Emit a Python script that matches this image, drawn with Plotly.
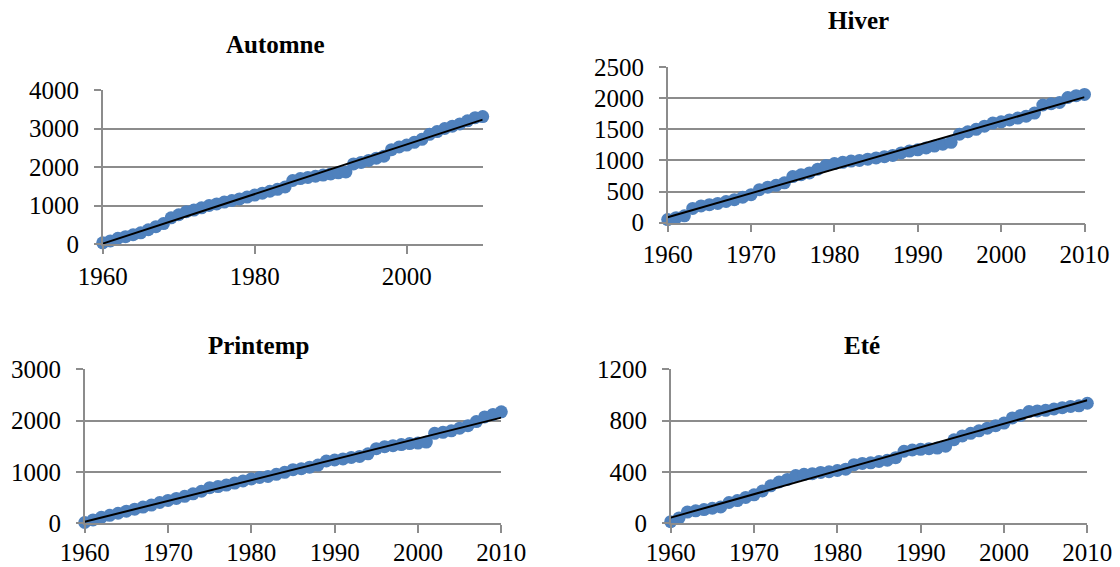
import numpy as np
import plotly.graph_objects as go

years = list(range(1960, 2011))

automne = [30, 80, 150, 190, 240, 290, 370, 450, 530, 680,
           760, 840, 880, 940, 1000, 1040, 1090, 1130, 1170, 1220,
           1270, 1320, 1370, 1420, 1480, 1650, 1700, 1730, 1760, 1790,
           1820, 1850, 1870, 2080, 2120, 2170, 2230, 2280, 2450, 2520,
           2570, 2640, 2720, 2850, 2920, 3000, 3060, 3120, 3200, 3280,
           3310]

hiver = [50, 80, 110, 230, 270, 290, 310, 340, 370, 410,
         450, 530, 570, 600, 640, 740, 770, 800, 860, 920,
         950, 970, 990, 1000, 1020, 1040, 1060, 1080, 1120, 1150,
         1170, 1200, 1230, 1260, 1290, 1420, 1460, 1500, 1550, 1600,
         1620, 1650, 1680, 1710, 1760, 1890, 1910, 1930, 2010, 2040,
         2060]

printemp = [10, 60, 110, 150, 190, 230, 270, 310, 350, 400,
            440, 480, 520, 570, 620, 690, 710, 740, 780, 820,
            860, 890, 910, 950, 990, 1040, 1060, 1090, 1130, 1210,
            1230, 1250, 1280, 1300, 1350, 1450, 1490, 1510, 1530, 1550,
            1560, 1580, 1750, 1770, 1800, 1850, 1900, 1980, 2070, 2120,
            2170]

ete = [10, 40, 85, 95, 105, 115, 125, 160, 175, 200,
       220, 250, 290, 320, 340, 370, 380, 385, 395, 400,
       410, 420, 455, 465, 470, 480, 490, 510, 560, 570,
       575, 580, 585, 600, 650, 680, 700, 720, 740, 760,
       780, 820, 840, 870, 875, 880, 890, 900, 910, 915,
       935]

titles = ["Automne", "Hiver", "Printemp", "Eté"]
series = [automne, hiver, printemp, ete]
y_max = [4000, 2500, 3000, 1200]
y_dtick = [1000, 500, 1000, 400]
x_dtick = [20, 10, 10, 10]

W, H = 1120, 567
# plot areas in pixels (left, right, top, bottom)
boxes = [(102.7, 482.7, 90.0, 244.0),
         (667.7, 1084.5, 67.0, 222.7),
         (84.7, 501.3, 369.3, 523.0),
         (670.7, 1087.3, 369.3, 523.0)]
title_pos = [(275, 45), (858, 21), (258, 345), (862, 345)]
x_standoff = [1, 1, -2, -2]

FONT = "Liberation Serif, Times New Roman, serif"
GRID = "#8c8c8c"
BLUE = "#4f81bd"

fig = go.Figure()
layout = dict(
    template="none",
    width=W, height=H, autosize=False,
    margin=dict(l=0, r=0, t=0, b=0, pad=0, autoexpand=False),
    paper_bgcolor="white", plot_bgcolor="white",
    showlegend=False,
    font=dict(family=FONT, size=25, color="black"),
    annotations=[],
)

for i, (name, vals) in enumerate(zip(titles, series)):
    xa = "x" if i == 0 else f"x{i+1}"
    ya = "y" if i == 0 else f"y{i+1}"
    l, r, t, b = boxes[i]
    fig.add_trace(go.Scatter(
        x=years, y=vals, mode="markers", xaxis=xa, yaxis=ya,
        marker=dict(size=13, color=BLUE, line=dict(width=0)),
        cliponaxis=False,
    ))
    coef = np.polyfit(years, vals, 1)
    tx = [years[0], years[-1]]
    ty = list(np.polyval(coef, tx))
    fig.add_trace(go.Scatter(
        x=tx, y=ty, mode="lines", xaxis=xa, yaxis=ya,
        line=dict(color="black", width=2), cliponaxis=False,
    ))
    xkey = "xaxis" if i == 0 else f"xaxis{i+1}"
    ykey = "yaxis" if i == 0 else f"yaxis{i+1}"
    layout[xkey] = dict(
        domain=[l / W, r / W], anchor=ya, automargin=False,
        range=[1960, 2010], tick0=1960, dtick=x_dtick[i],
        showgrid=False, zeroline=False,
        showline=True, linecolor=GRID, linewidth=1.5,
        ticks="outside", ticklen=8, tickcolor=GRID, tickwidth=1.5,
        ticklabelstandoff=x_standoff[i],
        tickfont=dict(family=FONT, size=25, color="black"),
    )
    layout[ykey] = dict(
        domain=[1 - b / H, 1 - t / H], anchor=xa, automargin=False,
        range=[0, y_max[i]], tick0=0, dtick=y_dtick[i],
        showgrid=True, gridcolor=GRID, gridwidth=1.5,
        zeroline=False,
        showline=True, linecolor=GRID, linewidth=1.5,
        ticks="outside", ticklen=7, tickcolor=GRID, tickwidth=1.5,
        ticklabelstandoff=10,
        tickfont=dict(family=FONT, size=25, color="black"),
    )
    cx, cy = title_pos[i]
    layout["annotations"].append(dict(
        text=f"<b>{name}</b>", x=cx / W, y=1 - cy / H,
        xref="paper", yref="paper", xanchor="center", yanchor="middle",
        showarrow=False, font=dict(family=FONT, size=25, color="black"),
    ))

fig.update_layout(**layout)
fig.write_html(
    "out.html",
    config={"displayModeBar": False},
    post_script="document.body.style.margin='0';document.body.style.padding='0';",
)
